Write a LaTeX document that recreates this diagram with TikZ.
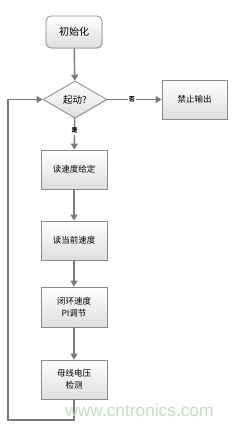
\documentclass[tikz,border=0pt]{standalone}
\usepackage{fontspec}
\newfontfamily\cjk{Noto Sans CJK SC}
\newfontfamily\wm{Liberation Sans}
\usetikzlibrary{arrows.meta,shapes.geometric,shadows}
\definecolor{lineg}{HTML}{7A7A7A}
\definecolor{bord}{HTML}{8A8A8A}
\definecolor{wmgreen}{HTML}{B8DDAA}
\tikzset{
  boxst/.style={draw=bord, line width=0.8pt, top color=white, bottom color=black!13,
    drop shadow={shadow xshift=0.8pt, shadow yshift=-0.8pt, opacity=0.25},
    minimum width=66pt, minimum height=39pt, inner sep=1pt, align=center,
    font=\cjk\fontsize{8.5}{12}\selectfont},
  flowarrow/.style={draw=lineg, line width=1.4pt, -{Triangle[length=6pt,width=7pt]}},
  flowline/.style={draw=lineg, line width=1.4pt},
  lab/.style={fill=white, inner sep=1pt, font=\cjk\bfseries\fontsize{6}{7}\selectfont}
}
\begin{document}
\begin{tikzpicture}[x=1pt,y=-1pt]
\useasboundingbox[fill=white] (0,0) rectangle (234,425);
\node[boxst, rounded corners=5pt, minimum width=56pt, minimum height=32pt, font=\cjk\fontsize{10}{12}\selectfont] (init) at (74,32) {初始化};
\node[boxst, diamond, minimum width=64pt, minimum height=37pt, inner sep=0pt, font=\cjk\fontsize{9.5}{12}\selectfont] (dia) at (75,99.5) {起动?};
\node[boxst, minimum width=65pt] (stop) at (194.5,99.5) {禁止输出};
\node[boxst] (b1) at (74,169.5) {读速度给定};
\node[boxst] (b2) at (74,240.5) {读当前速度};
\node[boxst, minimum height=40pt] (b3) at (74,307) {闭环速度\\PI调节};
\node[boxst] (b4) at (74,379.5) {母线电压\\检测};
\coordinate (l1) at (74,420);
\coordinate (l2) at (8,420);
\coordinate (l3) at (8,99.5);
\draw[flowarrow] (init) -- (dia);
\draw[flowarrow] (dia) -- (stop) node[lab, pos=0.45] {否};
\draw[flowarrow] (dia) -- (b1) node[lab, pos=0.4] {是};
\draw[flowarrow] (b1) -- (b2);
\draw[flowarrow] (b2) -- (b3);
\draw[flowarrow] (b3) -- (b4);
\draw[flowline] (b4.south) -- (l1) -- (l2) -- (l3);
\draw[flowarrow] (l3) -- (dia.west);
\node[text=wmgreen, font=\wm\fontsize{17.3}{20}\selectfont, inner sep=0pt, opacity=0.85] (wmark) at (139.5,410) {www.cntronics.com};
\end{tikzpicture}
\end{document}
